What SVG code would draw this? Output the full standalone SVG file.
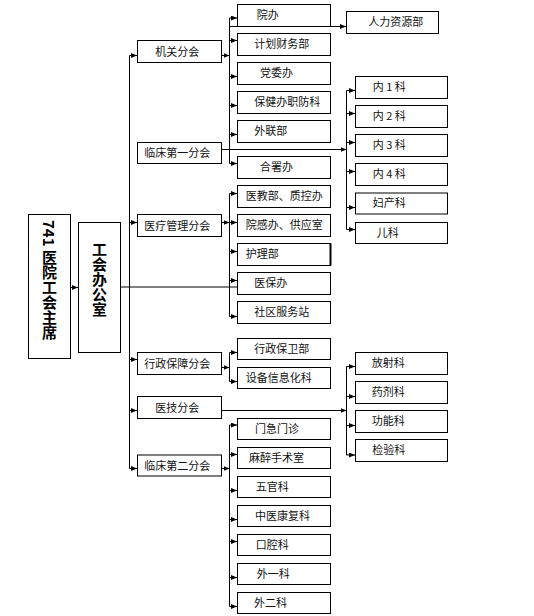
<svg xmlns="http://www.w3.org/2000/svg" width="534" height="616" viewBox="0 0 534 616">
<style>
.b{fill:#fff;stroke:#000;stroke-width:1}
.t{font-family:"Noto Sans CJK SC","Liberation Sans",sans-serif;font-size:11px;fill:#111}
.v{font-family:"Noto Sans CJK SC","Liberation Serif",serif;font-size:15px;font-weight:bold;fill:#000;writing-mode:vertical-rl}
.c line{stroke:#000;stroke-width:1}
.a{marker-end:url(#ah)}
</style>
<defs>
<marker id="ah" markerUnits="userSpaceOnUse" markerWidth="7" markerHeight="6" refX="6" refY="2.5" orient="auto">
<path d="M0,0 L6,2.5 L0,5 z" fill="#000"/>
</marker>
</defs>
<rect width="534" height="616" fill="#fff"/>
<g class="c" id="connectors">
<line class="a" x1="70.5" y1="287.5" x2="78" y2="287.5"/>
<line x1="120.5" y1="287" x2="237" y2="287"/>
<line x1="129.5" y1="55.5" x2="129.5" y2="468.5"/>
<line class="a" x1="129.5" y1="55.5" x2="137" y2="55.5"/>
<line class="a" x1="129.5" y1="222.5" x2="137" y2="222.5"/>
<line class="a" x1="129.5" y1="359.5" x2="137" y2="359.5"/>
<line class="a" x1="129.5" y1="410.5" x2="137" y2="410.5"/>
<line class="a" x1="129.5" y1="468.5" x2="137" y2="468.5"/>
<line class="a" x1="221" y1="55.5" x2="229.5" y2="55.5"/>
<line x1="229.5" y1="18" x2="229.5" y2="163.5"/>
<line class="a" x1="229.5" y1="18" x2="237" y2="18"/>
<line class="a" x1="229.5" y1="40.5" x2="237" y2="40.5"/>
<line class="a" x1="229.5" y1="76.5" x2="237" y2="76.5"/>
<line class="a" x1="229.5" y1="105.5" x2="237" y2="105.5"/>
<line class="a" x1="229.5" y1="134.5" x2="237" y2="134.5"/>
<line class="a" x1="229.5" y1="163.5" x2="237" y2="163.5"/>
<line class="a" x1="221" y1="222.5" x2="229.5" y2="222.5"/>
<line x1="229.5" y1="193.5" x2="229.5" y2="316.5"/>
<line class="a" x1="229.5" y1="193.5" x2="237" y2="193.5"/>
<line class="a" x1="229.5" y1="222.5" x2="237" y2="222.5"/>
<line class="a" x1="229.5" y1="251.5" x2="237" y2="251.5"/>
<line class="a" x1="229.5" y1="280.5" x2="237" y2="280.5"/>
<line class="a" x1="229.5" y1="316.5" x2="237" y2="316.5"/>
<line class="a" x1="221" y1="367.5" x2="229.5" y2="367.5"/>
<line x1="229.5" y1="352.5" x2="229.5" y2="381.5"/>
<line class="a" x1="229.5" y1="352.5" x2="237" y2="352.5"/>
<line class="a" x1="229.5" y1="381.5" x2="237" y2="381.5"/>
<line class="a" x1="221" y1="468.5" x2="229.5" y2="468.5"/>
<line x1="229.5" y1="425" x2="229.5" y2="606.5"/>
<line class="a" x1="229.5" y1="425" x2="237" y2="425"/>
<line class="a" x1="229.5" y1="454.5" x2="237" y2="454.5"/>
<line class="a" x1="229.5" y1="490.5" x2="237" y2="490.5"/>
<line class="a" x1="229.5" y1="519.5" x2="237" y2="519.5"/>
<line class="a" x1="229.5" y1="541.5" x2="237" y2="541.5"/>
<line class="a" x1="229.5" y1="577.5" x2="237" y2="577.5"/>
<line class="a" x1="229.5" y1="606.5" x2="237" y2="606.5"/>
<line class="a" x1="229.5" y1="26.5" x2="346" y2="26.5"/>
<line class="a" x1="221" y1="149.5" x2="346.5" y2="149.5"/>
<line x1="346.5" y1="90.5" x2="346.5" y2="229.5"/>
<line class="a" x1="346.5" y1="90.5" x2="355" y2="90.5"/>
<line class="a" x1="346.5" y1="113.5" x2="355" y2="113.5"/>
<line class="a" x1="346.5" y1="142.5" x2="355" y2="142.5"/>
<line class="a" x1="346.5" y1="171.5" x2="355" y2="171.5"/>
<line class="a" x1="346.5" y1="207.5" x2="355" y2="207.5"/>
<line class="a" x1="346.5" y1="229.5" x2="355" y2="229.5"/>
<line class="a" x1="221" y1="410.5" x2="346.5" y2="410.5"/>
<line x1="346.5" y1="366.5" x2="346.5" y2="455"/>
<line class="a" x1="346.5" y1="366.5" x2="355" y2="366.5"/>
<line class="a" x1="346.5" y1="396.5" x2="355" y2="396.5"/>
<line class="a" x1="346.5" y1="425.5" x2="355" y2="425.5"/>
<line class="a" x1="346.5" y1="455" x2="355" y2="455"/>
</g>
<g id="chairman"><rect class="b" x="28.5" y="214.5" width="42" height="144"/><text class="v" x="49.5" y="220">741 医院工会主席</text></g>
<g id="office"><rect class="b" x="78.5" y="222.5" width="42" height="130"/><text class="v" x="99.5" y="242">工会办公室</text></g>
<g id="jiguan"><rect class="b" x="137.5" y="40.5" width="84" height="22"/><text class="t" x="155.3" y="55.5">机关分会</text></g>
<g id="linchuang1"><rect class="b" x="137.5" y="142.5" width="84" height="21"/><text class="t" x="144.3" y="157">临床第一分会</text></g>
<g id="yiliao"><rect class="b" x="137.5" y="214.5" width="84" height="22"/><text class="t" x="144.3" y="229.5">医疗管理分会</text></g>
<g id="xingzheng"><rect class="b" x="137.5" y="352.5" width="84" height="22"/><text class="t" x="144.3" y="367.5">行政保障分会</text></g>
<g id="yiji"><rect class="b" x="137.5" y="396.5" width="84" height="22"/><text class="t" x="155.3" y="411.5">医技分会</text></g>
<g id="linchuang2"><rect class="b" x="137.5" y="455" width="84" height="21"/><text class="t" x="144.3" y="469.5">临床第二分会</text></g>
<g id="yuanban"><rect class="b" x="237.5" y="4.5" width="93" height="22"/><text class="t" x="256.7" y="18.5">院办</text></g>
<g id="jihua"><rect class="b" x="237.5" y="33.5" width="93" height="22"/><text class="t" x="254.3" y="47.5">计划财务部</text></g>
<g id="dangwei"><rect class="b" x="237.5" y="62.5" width="93" height="22"/><text class="t" x="260" y="76.5">党委办</text></g>
<g id="baojian"><rect class="b" x="237.5" y="91.5" width="93" height="22"/><text class="t" x="254.3" y="105.5">保健办职防科</text></g>
<g id="wailian"><rect class="b" x="237.5" y="120.5" width="93" height="22"/><text class="t" x="254.3" y="134.5">外联部</text></g>
<g id="heshu"><rect class="b" x="237.5" y="156.5" width="93" height="22"/><text class="t" x="260" y="170.5">合署办</text></g>
<g id="yijiao"><rect class="b" x="237.5" y="185.5" width="93" height="22"/><text class="t" x="245.7" y="199.5">医教部、质控办</text></g>
<g id="yuangan"><rect class="b" x="237.5" y="214.5" width="93" height="22"/><text class="t" x="245.7" y="228.5">院感办、供应室</text></g>
<g id="huli"><rect class="b" x="237.5" y="243.5" width="93" height="22"/><line x1="330.5" y1="243.5" x2="330.5" y2="265.5" stroke="#000" stroke-width="2"/><text class="t" x="245.7" y="257.5">护理部</text></g>
<g id="yibao"><rect class="b" x="237.5" y="272.5" width="93" height="22"/><text class="t" x="254.3" y="286.5">医保办</text></g>
<g id="shequ"><rect class="b" x="237.5" y="301.5" width="93" height="22"/><text class="t" x="254.3" y="315.5">社区服务站</text></g>
<g id="baowei"><rect class="b" x="237.5" y="338.5" width="93" height="21"/><text class="t" x="254.3" y="352.5">行政保卫部</text></g>
<g id="shebei"><rect class="b" x="237.5" y="367.5" width="93" height="21"/><text class="t" x="245.7" y="381.5">设备信息化科</text></g>
<g id="menji"><rect class="b" x="237.5" y="418.5" width="93" height="21"/><text class="t" x="255" y="432.5">门急门诊</text></g>
<g id="mazui"><rect class="b" x="237.5" y="447.5" width="93" height="21"/><text class="t" x="249" y="461.5">麻醉手术室</text></g>
<g id="wuguan"><rect class="b" x="237.5" y="476.5" width="93" height="21"/><text class="t" x="255.7" y="490.5">五官科</text></g>
<g id="zhongyi"><rect class="b" x="237.5" y="505.5" width="93" height="21"/><text class="t" x="255" y="519.5">中医康复科</text></g>
<g id="kouqiang"><rect class="b" x="237.5" y="534.5" width="93" height="21"/><text class="t" x="255.7" y="548.5">口腔科</text></g>
<g id="waiyi"><rect class="b" x="237.5" y="563.5" width="93" height="21"/><text class="t" x="256.7" y="577.5">外一科</text></g>
<g id="waier"><rect class="b" x="237.5" y="592.5" width="93" height="21"/><text class="t" x="254" y="606.5">外二科</text></g>
<g id="renli"><rect class="b" x="346.5" y="11.5" width="92" height="22"/><text class="t" x="368.3" y="25.5">人力资源部</text></g>
<g id="nei1"><rect class="b" x="355.5" y="76.5" width="92" height="22"/><text class="t" x="372.7" y="90.5">内 1 科</text></g>
<g id="nei2"><rect class="b" x="355.5" y="105.5" width="92" height="22"/><text class="t" x="372.7" y="119.5">内 2 科</text></g>
<g id="nei3"><rect class="b" x="355.5" y="134.5" width="92" height="22"/><text class="t" x="372.7" y="148.5">内 3 科</text></g>
<g id="nei4"><rect class="b" x="355.5" y="163.5" width="92" height="22"/><text class="t" x="372.7" y="177.5">内 4 科</text></g>
<g id="fuchan"><rect class="b" x="355.5" y="193" width="92" height="21"/><text class="t" x="372.7" y="207">妇产科</text></g>
<g id="erke"><rect class="b" x="355.5" y="222.5" width="92" height="21"/><text class="t" x="376.7" y="236.5">儿科</text></g>
<g id="fangshe"><rect class="b" x="355.5" y="352.5" width="92" height="22"/><text class="t" x="371.7" y="366.5">放射科</text></g>
<g id="yaoji"><rect class="b" x="355.5" y="381.5" width="92" height="22"/><text class="t" x="371.7" y="395.5">药剂科</text></g>
<g id="gongneng"><rect class="b" x="355.5" y="410.5" width="92" height="22"/><text class="t" x="371.7" y="424.5">功能科</text></g>
<g id="jianyan"><rect class="b" x="355.5" y="439.5" width="92" height="22"/><text class="t" x="372.3" y="453.5">检验科</text></g>
</svg>
